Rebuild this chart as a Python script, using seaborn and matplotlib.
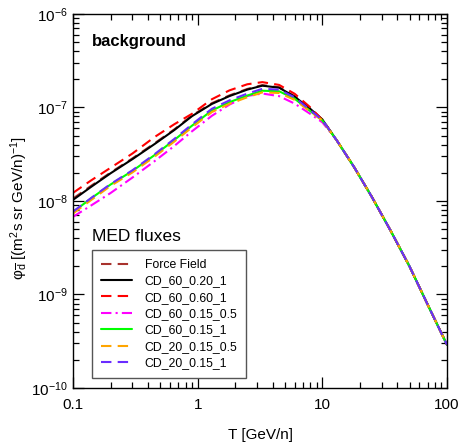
import numpy as np
import pandas as pd
import matplotlib
matplotlib.use("Agg")
import matplotlib.pyplot as plt
import seaborn as sns
from matplotlib.ticker import FixedLocator, FixedFormatter, NullFormatter

# kinetic energy per nucleon [GeV/n]
T = [0.1, 0.14, 0.2, 0.3, 0.45, 0.65, 0.9, 1.3, 1.8, 2.5, 3.3, 4.5, 6.0, 8.0, 10.0,
     13.0, 18.0, 25.0, 35.0, 50.0, 70.0, 100.0]

# tail shared by all propagation models (log10 of flux), from 13 GeV/n on
tail = [-7.35, -7.64, -7.96, -8.31, -8.70, -9.11, -9.54]

# log10 flux up to 10 GeV/n
ff_log = [-7.975, -7.838, -7.697, -7.545, -7.385, -7.235, -7.087, -6.955, -6.872,
          -6.803, -6.762, -6.785, -6.880, -7.012, -7.13]
cd60_020_log = [-7.989, -7.849, -7.705, -7.553, -7.393, -7.242, -7.094, -6.963, -6.879,
                -6.810, -6.768, -6.790, -6.886, -7.016, -7.13]
cd60_060_log = [-7.914, -7.780, -7.646, -7.493, -7.318, -7.180, -7.069, -6.913, -6.818,
                -6.753, -6.730, -6.760, -6.855, -7.000, -7.135]
cd60_015_05_log = [-8.170, -8.048, -7.916, -7.750, -7.576, -7.412, -7.256, -7.090, -6.970,
                   -6.878, -6.852, -6.880, -6.960, -7.070, -7.16]
cd60_015_1_log = [-8.118, -7.972, -7.825, -7.679, -7.511, -7.348, -7.196, -7.033, -6.944,
                  -6.874, -6.822, -6.828, -6.908, -7.040, -7.14]
cd20_015_05_log = [-8.135, -7.990, -7.840, -7.695, -7.528, -7.365, -7.214, -7.050, -6.962,
                   -6.892, -6.840, -6.846, -6.920, -7.045, -7.14]
cd20_015_1_log = [-8.115, -7.968, -7.820, -7.672, -7.502, -7.337, -7.182, -7.015, -6.925,
                  -6.853, -6.802, -6.810, -6.893, -7.030, -7.135]

series = [
    ("Force Field", ff_log, "#a8322d", (5, 3)),
    ("CD_60_0.20_1", cd60_020_log, "black", None),
    ("CD_60_0.60_1", cd60_060_log, "#ff0000", (5, 3)),
    ("CD_60_0.15_0.5", cd60_015_05_log, "#ff00ff", (5, 2, 1, 2)),
    ("CD_60_0.15_1", cd60_015_1_log, "#00ff00", None),
    ("CD_20_0.15_0.5", cd20_015_05_log, "#ffa500", (5, 3)),
    ("CD_20_0.15_1", cd20_015_1_log, "#6a2cff", (5, 3)),
]

sns.set_style("ticks")
plt.rcParams['font.family'] = ['Liberation Sans', 'DejaVu Sans']
plt.rcParams['mathtext.fontset'] = 'custom'
plt.rcParams['mathtext.rm'] = 'Liberation Sans'
plt.rcParams['mathtext.it'] = 'Liberation Sans:italic'
plt.rcParams['mathtext.bf'] = 'Liberation Sans:bold'
plt.rcParams['text.color'] = 'black'
plt.rcParams['axes.labelcolor'] = 'black'
plt.rcParams['xtick.color'] = 'black'
plt.rcParams['ytick.color'] = 'black'

fig = plt.figure(figsize=(4.59, 4.46), dpi=100)
ax = fig.add_axes([0.159, 0.130, 0.815, 0.839])

for name, vals, col, dash in series:
    flux = 10.0 ** np.array(vals + tail)
    df = pd.DataFrame({"T": T, "flux": flux})
    sns.lineplot(data=df, x="T", y="flux", color=col, lw=1.5, label=name, ax=ax)
    if dash is not None:
        ax.lines[-1].set_dashes(dash)

ax.set_xscale("log")
ax.set_yscale("log")
ax.set_xlim(0.1, 100)
ax.set_ylim(1e-10, 1e-6)

# ticks only inside the visible range
x_minor = [m * 10.0 ** e for e in (-1, 0, 1) for m in range(2, 10)]
y_major = [1e-10, 1e-9, 1e-8, 1e-7, 1e-6]
y_minor = [m * 10.0 ** e for e in (-10, -9, -8, -7) for m in range(2, 10)]

ax.xaxis.set_major_locator(FixedLocator([0.1, 1, 10, 100]))
ax.xaxis.set_major_formatter(FixedFormatter(["0.1", "1", "10", "100"]))
ax.xaxis.set_minor_locator(FixedLocator(x_minor))
ax.xaxis.set_minor_formatter(NullFormatter())
ax.yaxis.set_major_locator(FixedLocator(y_major))
ax.yaxis.set_major_formatter(FixedFormatter(
    [r"10$^{-10}$", r"10$^{-9}$", r"10$^{-8}$", r"10$^{-7}$", r"10$^{-6}$"]))
ax.yaxis.set_minor_locator(FixedLocator(y_minor))
ax.yaxis.set_minor_formatter(NullFormatter())

ax.tick_params(which="both", direction="in", top=True, right=True, labelsize=11,
               width=0.9, color="black", labelcolor="black")
ax.tick_params(which="major", length=8)
ax.tick_params(which="minor", length=4)
ax.tick_params(axis="x", which="major", pad=7)
for sp in ax.spines.values():
    sp.set_linewidth(1.0)
    sp.set_color("black")

ax.set_xlabel("T [GeV/n]", fontsize=11, labelpad=12)
ax.set_ylabel(r"φ$_{\overline{\mathrm{d}}}$ [(m$^2$s sr GeV/n)$^{-1}$]", fontsize=11)
ax.yaxis.set_label_coords(-0.115, 0.48)

ax.text(0.05, 0.925, "background", transform=ax.transAxes, fontsize=12,
        fontweight="bold", va="center", ha="left", color="black")
ax.text(0.05, 0.404, "MED fluxes", transform=ax.transAxes, fontsize=12.5,
        va="center", ha="left", color="black")

leg = ax.legend(loc="lower left", bbox_to_anchor=(0.051, 0.027), fontsize=8.8,
                frameon=True, fancybox=False, handlelength=2.6, labelspacing=0.36,
                borderaxespad=0, borderpad=0.7, handletextpad=1.0)
leg.get_frame().set_edgecolor("#555555")
leg.get_frame().set_linewidth(1.0)
leg.get_frame().set_alpha(1)
for t in leg.get_texts():
    t.set_color("black")

fig.savefig("out.png", dpi=100)
